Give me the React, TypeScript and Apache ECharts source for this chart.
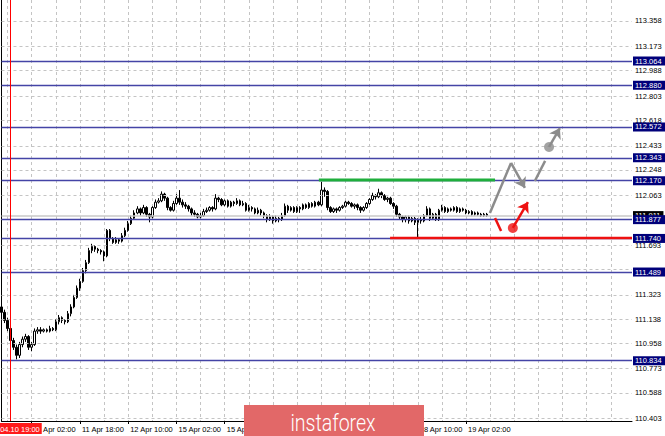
import React, { useEffect, useRef } from 'react';
import * as echarts from 'echarts';

// [open, close, low, high] per H1 candle, from 2019.04.10 16:00
const ohlc: number[][] = [
  [111.23, 111.19, 111.16, 111.25], [111.19, 111.13, 111.11, 111.21], [111.13, 111.07, 111.05, 111.15],
  [111.07, 110.98, 110.96, 111.09], [110.98, 110.93, 110.91, 111.00], [110.93, 110.87, 110.84, 110.95],
  [110.87, 110.95, 110.85, 110.97], [110.95, 110.99, 110.93, 111.01], [110.99, 111.01, 110.97, 111.03],
  [111.01, 110.93, 110.91, 111.02], [110.93, 110.95, 110.90, 110.97], [110.95, 111.05, 110.94, 111.07],
  [111.05, 111.06, 111.03, 111.08], [111.06, 111.05, 111.03, 111.08], [111.05, 111.06, 111.04, 111.07],
  [111.06, 111.05, 111.04, 111.07], [111.05, 111.07, 111.04, 111.09], [111.07, 111.06, 111.05, 111.08],
  [111.06, 111.12, 111.05, 111.14], [111.12, 111.15, 111.10, 111.17], [111.15, 111.13, 111.11, 111.16],
  [111.13, 111.12, 111.10, 111.14], [111.12, 111.18, 111.11, 111.20], [111.18, 111.23, 111.16, 111.25],
  [111.23, 111.30, 111.22, 111.32], [111.30, 111.37, 111.29, 111.39], [111.37, 111.42, 111.35, 111.44],
  [111.42, 111.50, 111.41, 111.52], [111.50, 111.56, 111.48, 111.58], [111.56, 111.65, 111.55, 111.67],
  [111.65, 111.68, 111.63, 111.70], [111.68, 111.66, 111.64, 111.69], [111.66, 111.65, 111.63, 111.67],
  [111.65, 111.64, 111.62, 111.66], [111.64, 111.61, 111.57, 111.65], [111.61, 111.80, 111.60, 111.81],
  [111.80, 111.74, 111.72, 111.81], [111.74, 111.71, 111.70, 111.75], [111.71, 111.73, 111.70, 111.75],
  [111.73, 111.72, 111.70, 111.74], [111.72, 111.76, 111.71, 111.78], [111.76, 111.80, 111.75, 111.82],
  [111.80, 111.85, 111.79, 111.87], [111.85, 111.89, 111.84, 111.91], [111.89, 111.93, 111.88, 111.95],
  [111.93, 111.96, 111.92, 111.98], [111.96, 111.93, 111.91, 111.97], [111.93, 111.97, 111.92, 111.99],
  [111.97, 111.92, 111.90, 111.98], [111.92, 111.90, 111.86, 111.93], [111.90, 111.97, 111.89, 111.98],
  [111.97, 112.01, 111.96, 112.03], [112.01, 112.02, 112.00, 112.04], [112.02, 112.07, 112.01, 112.09],
  [112.07, 112.04, 112.02, 112.08], [112.04, 111.97, 111.95, 112.05], [111.97, 111.95, 111.94, 111.98],
  [111.95, 112.00, 111.94, 112.02], [112.00, 112.04, 111.99, 112.07], [112.04, 112.01, 111.99, 112.10],
  [112.01, 111.99, 111.97, 112.03], [111.99, 111.98, 111.96, 112.01], [111.98, 111.96, 111.94, 111.99],
  [111.96, 111.93, 111.91, 111.97], [111.93, 111.92, 111.90, 111.95], [111.92, 111.90, 111.89, 111.93],
  [111.90, 111.91, 111.89, 111.93], [111.91, 111.94, 111.90, 111.96], [111.94, 111.95, 111.93, 111.97],
  [111.95, 111.97, 111.94, 111.98], [111.97, 111.96, 111.94, 111.98], [111.96, 112.04, 111.95, 112.07],
  [112.04, 112.03, 112.01, 112.05], [112.03, 111.99, 111.98, 112.04], [111.99, 112.02, 111.98, 112.03],
  [112.02, 111.98, 111.97, 112.03], [111.98, 112.01, 111.97, 112.02], [112.01, 112.00, 111.98, 112.02],
  [112.00, 112.02, 111.99, 112.04], [112.02, 111.99, 111.98, 112.03], [111.99, 112.00, 111.98, 112.02],
  [112.00, 111.95, 111.94, 112.01], [111.95, 111.97, 111.94, 111.99], [111.97, 111.96, 111.94, 111.98],
  [111.96, 111.93, 111.92, 111.97], [111.93, 111.95, 111.92, 111.97], [111.95, 111.93, 111.91, 111.96],
  [111.93, 111.91, 111.89, 111.94], [111.91, 111.88, 111.86, 111.92], [111.88, 111.90, 111.87, 111.92],
  [111.90, 111.87, 111.85, 111.91], [111.87, 111.89, 111.86, 111.91], [111.89, 111.88, 111.86, 111.90],
  [111.88, 111.91, 111.87, 111.93], [111.91, 111.98, 111.90, 112.00], [111.98, 111.95, 111.93, 111.99],
  [111.95, 111.97, 111.94, 111.98], [111.97, 111.94, 111.93, 111.98], [111.94, 111.97, 111.93, 111.98],
  [111.97, 111.96, 111.93, 111.98], [111.96, 111.99, 111.95, 112.00], [111.99, 111.97, 111.96, 112.00],
  [111.97, 112.00, 111.96, 112.01], [112.00, 111.98, 111.97, 112.01], [111.98, 112.01, 111.97, 112.02],
  [112.01, 111.99, 111.98, 112.02], [111.99, 112.10, 111.98, 112.16], [112.10, 112.09, 112.05, 112.12],
  [112.09, 111.97, 111.95, 112.10], [111.97, 111.94, 111.93, 111.98], [111.94, 111.96, 111.93, 111.97],
  [111.96, 111.95, 111.93, 111.97], [111.95, 111.97, 111.94, 111.98], [111.97, 111.98, 111.96, 111.99],
  [111.98, 112.01, 111.97, 112.02], [112.01, 112.00, 111.99, 112.02], [112.00, 111.98, 111.97, 112.01],
  [111.98, 111.99, 111.96, 112.00], [111.99, 111.97, 111.95, 112.00], [111.97, 111.95, 111.93, 111.98],
  [111.95, 111.97, 111.94, 111.98], [111.97, 112.00, 111.96, 112.01], [112.00, 112.03, 111.99, 112.04],
  [112.03, 112.06, 112.02, 112.08], [112.06, 112.05, 112.03, 112.07], [112.05, 112.08, 112.04, 112.11],
  [112.08, 112.06, 112.04, 112.09], [112.06, 112.03, 112.02, 112.07], [112.03, 112.04, 112.01, 112.05],
  [112.04, 112.00, 111.99, 112.05], [112.00, 111.98, 111.96, 112.01], [111.98, 111.92, 111.90, 111.99],
  [111.92, 111.90, 111.88, 111.93], [111.90, 111.88, 111.86, 111.91], [111.88, 111.90, 111.86, 111.91],
  [111.90, 111.87, 111.85, 111.91], [111.87, 111.89, 111.86, 111.90], [111.89, 111.86, 111.84, 111.90],
  [111.86, 111.88, 111.75, 111.89], [111.88, 111.87, 111.85, 111.90], [111.87, 111.91, 111.86, 111.92],
  [111.91, 111.96, 111.90, 111.98], [111.96, 111.89, 111.87, 111.97], [111.89, 111.92, 111.88, 111.93],
  [111.92, 111.88, 111.87, 111.93], [111.88, 111.95, 111.87, 111.96], [111.95, 111.97, 111.94, 111.99],
  [111.97, 111.94, 111.93, 111.98], [111.94, 111.96, 111.93, 111.97], [111.96, 111.95, 111.94, 111.97],
  [111.95, 111.97, 111.94, 111.98], [111.97, 111.94, 111.93, 111.98], [111.94, 111.96, 111.93, 111.97],
  [111.96, 111.95, 111.94, 111.97], [111.95, 111.93, 111.92, 111.96], [111.93, 111.94, 111.92, 111.95],
  [111.94, 111.92, 111.91, 111.95], [111.92, 111.93, 111.91, 111.94], [111.93, 111.92, 111.91, 111.94],
  [111.92, 111.91, 111.90, 111.93], [111.91, 111.92, 111.90, 111.93], [111.92, 111.911, 111.90, 111.93],
];

const slotCount = 210; // hourly slots visible on the chart (incl. empty future space)
const categories = Array.from({ length: slotCount }, (_, i) => String(i));

const xTickIndex = [10, 26, 42, 58, 74, 90, 106, 122, 138, 154];
const xTickText = [
  '11 Apr 02:00', '11 Apr 18:00', '12 Apr 10:00', '15 Apr 02:00', '15 Apr 18:00',
  '16 Apr 10:00', '17 Apr 02:00', '17 Apr 18:00', '18 Apr 10:00', '19 Apr 02:00',
];

const yTickValues = [113.358, 113.173, 112.988, 112.803, 112.618, 112.433, 112.248, 112.063,
  111.878, 111.693, 111.508, 111.323, 111.138, 110.958, 110.773, 110.588, 110.403];
const yTickLabels = ['113.358', '113.173', '112.988', '112.803', '112.618', '112.433', '112.248', '112.063',
  '', '111.693', '', '111.323', '111.138', '110.958', '110.773', '110.588', '110.403'];

const levels = [113.064, 112.88, 112.572, 112.343, 112.17, 111.877, 111.74, 111.489, 110.834];
const currentPrice = 111.911;
const markerTime = '2019.04.10 19:00';
const markerIndex = '3';

const greenLine = [[105.2, 112.175], [163.6, 112.175]];
const redLine = [[128.8, 111.743], [209, 111.743]];
// forecast sketch: [slot, price] points
const grayUp = [[161.9, 111.929], [168.9, 112.302]];
const grayDown = [[168.9, 112.302], [173.5, 112.116]];
const grayUp2 = [[176.8, 112.168], [180.2, 112.317]];
const grayArrow = [[181.5, 112.421], [185.1, 112.562]];
const redDash = [[163.6, 111.892], [165.6, 111.795]];
const redArrow = [[169.5, 111.818], [174.5, 112.011]];

const FONT = 'Liberation Sans';
const GRAY = '#8c8c8c';
const RED = '#ee1111';

function segSeries(segs: number[][][], color: string, arrow: boolean) {
  return {
    type: 'lines', coordinateSystem: 'cartesian2d', xAxisIndex: 1, z: 7, silent: true,
    symbol: arrow ? ['none', 'arrow'] : ['none', 'none'], symbolSize: 10,
    lineStyle: { color, width: 2.5, opacity: 1, curveness: 0 },
    data: segs.map((coords) => ({ coords })),
  };
}

export default function App() {
  const ref = useRef<HTMLDivElement>(null);
  useEffect(() => {
    const chart = echarts.init(ref.current!, null, { renderer: 'svg' });
    const tickFont = { fontSize: 7.5, fontFamily: FONT, color: '#000' };
    chart.setOption({
      animation: false,
      backgroundColor: '#fff',
      grid: { left: 1.5, right: 33, top: 0, bottom: 15 },
      xAxis: [
        {
          type: 'category',
          data: categories,
          boundaryGap: false,
          axisLine: { show: true, lineStyle: { color: '#000', width: 1 } },
          axisTick: {
            show: true, length: 3, lineStyle: { color: '#000' },
            interval: (i: number) => xTickIndex.includes(i),
          },
          axisLabel: {
            show: true, ...tickFont, align: 'left', margin: 4, padding: [0, 0, 0, 2],
            interval: (i: number) => xTickIndex.includes(i),
            formatter: (_v: string, i: number) => xTickText[xTickIndex.indexOf(i)] ?? '',
          },
          splitLine: {
            show: true,
            interval: (i: number) => (i - 2) % 8 === 0,
            lineStyle: { color: '#c4c4c4', type: [3, 3], width: 1 },
          },
        },
        { type: 'value', min: 0, max: slotCount - 1, show: false },
      ],
      yAxis: {
        type: 'value', position: 'right', min: 110.381, max: 113.515, scale: true,
        axisLine: { show: true, lineStyle: { color: '#000', width: 1 } },
        axisTick: { show: false }, axisLabel: { show: false }, splitLine: { show: false },
      },
      series: [
        {
          type: 'line', data: [], z: 1, silent: true,
          markLine: {
            silent: true, symbol: ['none', 'none'],
            lineStyle: { color: '#c4c4c4', type: [3, 3], width: 1 },
            label: { show: true, position: 'end', distance: 3, ...tickFont },
            data: yTickValues.map((v, k) => ({ yAxis: v, label: { formatter: yTickLabels[k] } })),
          },
        },
        {
          type: 'line', data: [], z: 2, silent: true,
          markLine: {
            silent: true, symbol: ['none', 'none'],
            lineStyle: { color: '#c8c8c8', type: 'solid', width: 1.5 },
            label: {
              show: true, position: 'end', distance: 1, fontSize: 7.5, fontFamily: FONT,
              color: '#fff', backgroundColor: '#000', padding: [1, 3, 0, 2],
              formatter: currentPrice.toFixed(3),
            },
            data: [{ yAxis: currentPrice }],
          },
        },
        {
          type: 'candlestick', data: ohlc, z: 3, barWidth: 2,
          itemStyle: { color: '#ffffff', color0: '#000000', borderColor: '#000000', borderColor0: '#000000', borderWidth: 1 },
        },
        {
          type: 'line', data: [], z: 4, silent: true,
          markLine: {
            silent: true, symbol: ['none', 'none'],
            lineStyle: { color: '#4444a6', type: 'solid', width: 1.4 },
            label: {
              show: true, position: 'end', distance: 1, fontSize: 7.5, fontFamily: FONT,
              color: '#fff', backgroundColor: '#00007a', padding: [1, 4, 0, 2],
            },
            data: levels.map((v) => ({ yAxis: v, label: { formatter: v.toFixed(3) } })),
          },
        },
        {
          type: 'line', data: [], z: 5, silent: true,
          markLine: {
            silent: true, symbol: ['none', 'none'],
            lineStyle: { color: '#ff0000', type: 'solid', width: 1 },
            label: {
              show: true, position: 'start', distance: 2, fontSize: 7.5, fontFamily: FONT,
              color: '#fff', backgroundColor: '#ff1a1a', padding: [2, 2, 1, 2], formatter: markerTime,
            },
            data: [{ xAxis: markerIndex }],
          },
        },
        {
          type: 'line', xAxisIndex: 1, data: greenLine, z: 6, symbol: 'none', silent: true,
          lineStyle: { color: '#1fae3c', width: 3 },
        },
        {
          type: 'line', xAxisIndex: 1, data: redLine, z: 6, symbol: 'none', silent: true,
          lineStyle: { color: RED, width: 2.5 },
        },
        segSeries([grayUp, grayUp2], GRAY, false),
        segSeries([grayDown, grayArrow], GRAY, true),
        segSeries([redDash], RED, false),
        segSeries([redArrow], RED, true),
        {
          type: 'scatter', xAxisIndex: 1, z: 8, silent: true, symbolSize: 10,
          data: [
            { value: grayArrow[0], itemStyle: { color: GRAY } },
            { value: redArrow[0], itemStyle: { color: RED } },
          ],
        },
      ],
      graphic: [
        {
          type: 'rect', z: 100, zlevel: 1, shape: { x: 244, y: 405, width: 180, height: 32 },
          style: { fill: '#e26868' },
        },
        {
          type: 'text', z: 101, zlevel: 1, x: 333, y: 423, scaleX: 0.85,
          style: {
            text: 'instaforex', fill: '#fff', fontSize: 23, fontFamily: 'Roboto', fontWeight: 300,
            align: 'center', verticalAlign: 'middle',
          },
        },
      ],
    });
    return () => chart.dispose();
  }, []);
  return <div ref={ref} style={{ position: 'absolute', left: 0, top: 0, width: 665, height: 436 }} />;
}
